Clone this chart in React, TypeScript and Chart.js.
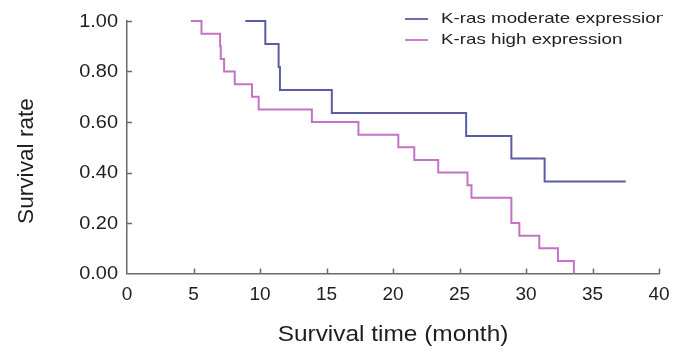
import React, { useEffect, useRef } from "react";
import { Chart, registerables } from "chart.js";

Chart.register(...registerables);

// Kaplan-Meier step points (month, survival)
const moderateTimes = [8.9, 10.4, 11.4, 11.5, 15.4, 25.5, 28.9, 31.4, 37.5];
const moderateSurvival = [1.0, 0.909, 0.818, 0.727, 0.636, 0.545, 0.455, 0.364, 0.364];

const highTimes = [4.8, 5.6, 7.0, 7.05, 7.3, 8.1, 9.4, 9.9, 13.9, 17.4, 20.4, 21.6, 23.4, 25.6, 25.9, 28.9, 29.5, 31.0, 32.4, 33.6];
const highSurvival = [1.0, 0.95, 0.9, 0.85, 0.8, 0.75, 0.7, 0.65, 0.6, 0.55, 0.5, 0.45, 0.4, 0.35, 0.3, 0.2, 0.15, 0.1, 0.05, 0.0];

const seriesLabels = ["K-ras moderate expression", "K-ras high expression"];
const seriesColors = ["#5c5ca6", "#c473c4"];

const xTickValues = [0, 5, 10, 15, 20, 25, 30, 35, 40];
const xTickLabels = ["0", "5", "10", "15", "20", "25", "30", "35", "40"];
const yTickValues = [0, 0.2, 0.4, 0.6, 0.8, 1.0];
const yTickLabels = ["0.00", "0.20", "0.40", "0.60", "0.80", "1.00"];

const xTitle = "Survival time (month)";
const yTitle = "Survival rate";

const FONT = "Liberation Sans, Arial, Helvetica, sans-serif";
const TEXT_COLOR = "#1e1e1e";
const AXIS_COLOR = "#6a6a6a";

function drawText(
  ctx: CanvasRenderingContext2D,
  text: string,
  x: number,
  y: number,
  size: number,
  sx: number,
  align: CanvasTextAlign,
  rotate = false
) {
  ctx.save();
  ctx.translate(x, y);
  if (rotate) ctx.rotate(-Math.PI / 2);
  ctx.scale(sx, 1);
  ctx.font = `${size}px ${FONT}`;
  ctx.fillStyle = TEXT_COLOR;
  ctx.textAlign = align;
  ctx.textBaseline = "middle";
  ctx.fillText(text, 0, 0);
  ctx.restore();
}

const decorPlugin = {
  id: "decor",
  afterDraw(chart: any) {
    const ctx: CanvasRenderingContext2D = chart.ctx;
    const xs = chart.scales.x;
    const ys = chart.scales.y;
    const area = chart.chartArea;
    ctx.save();
    // inward tick marks
    ctx.strokeStyle = AXIS_COLOR;
    ctx.lineWidth = 1.5;
    ctx.beginPath();
    xTickValues.forEach((v) => {
      if (v === 0) return;
      const px = Math.round(xs.getPixelForValue(v)) + 0.5;
      ctx.moveTo(px, area.bottom);
      ctx.lineTo(px, area.bottom - 5);
    });
    yTickValues.forEach((v) => {
      if (v === 0) return;
      const py = Math.round(ys.getPixelForValue(v)) + 0.5;
      ctx.moveTo(area.left, py);
      ctx.lineTo(area.left + 5, py);
    });
    ctx.stroke();

    // tick labels
    xTickValues.forEach((v, i) => {
      drawText(ctx, xTickLabels[i], xs.getPixelForValue(v), 295, 19, 1.0, "center");
    });
    yTickValues.forEach((v, i) => {
      drawText(ctx, yTickLabels[i], 118, ys.getPixelForValue(v) + 0.5, 19, 1.05, "right");
    });

    // axis titles
    drawText(ctx, xTitle, (area.left + area.right) / 2, 335, 22, 1.11, "center");
    drawText(ctx, yTitle, 27, 161, 22, 1.03, "center", true);

    // legend (text clipped at the right edge like the reference)
    chart.data.datasets.forEach((ds: any, i: number) => {
      const ly = 19 + i * 21;
      ctx.strokeStyle = ds.borderColor;
      ctx.lineWidth = 1.8;
      ctx.beginPath();
      ctx.moveTo(405, ly);
      ctx.lineTo(428, ly);
      ctx.stroke();
      ctx.save();
      ctx.beginPath();
      ctx.rect(0, 0, 663, chart.height);
      ctx.clip();
      drawText(ctx, ds.label, 441, ly, 15, 1.25, "left");
      ctx.restore();
    });
    ctx.restore();
  },
};

export default function App() {
  const canvasRef = useRef<HTMLCanvasElement | null>(null);

  useEffect(() => {
    document.body.style.margin = "0";
    const canvas = canvasRef.current;
    if (!canvas) return;
    const chart = new Chart(canvas, {
      type: "line",
      data: {
        datasets: [
          {
            label: seriesLabels[0],
            data: moderateTimes.map((t, i) => ({ x: t, y: moderateSurvival[i] })),
            borderColor: seriesColors[0],
            borderWidth: 2,
            pointRadius: 0,
            stepped: true,
            fill: false,
            clip: false as any,
          },
          {
            label: seriesLabels[1],
            data: highTimes.map((t, i) => ({ x: t, y: highSurvival[i] })),
            borderColor: seriesColors[1],
            borderWidth: 2,
            pointRadius: 0,
            stepped: true,
            fill: false,
            clip: false as any,
          },
        ],
      },
      options: {
        animation: false,
        responsive: false,
        maintainAspectRatio: false,
        layout: { padding: { left: 127, right: 20, top: 21, bottom: 79.5 } },
        plugins: { legend: { display: false }, tooltip: { enabled: false } },
        scales: {
          x: {
            type: "linear",
            min: 0,
            max: 40,
            ticks: { display: false, stepSize: 5 },
            grid: { display: false, drawTicks: false },
            border: { display: true, color: AXIS_COLOR, width: 1.5 },
          },
          y: {
            type: "linear",
            min: 0,
            max: 1,
            ticks: { display: false, stepSize: 0.2 },
            grid: { display: false, drawTicks: false },
            border: { display: true, color: AXIS_COLOR, width: 1.5 },
          },
        },
      },
      plugins: [decorPlugin],
    });
    return () => chart.destroy();
  }, []);

  return (
    <div style={{ width: 679, height: 353, background: "#fff" }}>
      <canvas ref={canvasRef} width={679} height={353} style={{ display: "block" }} />
    </div>
  );
}
